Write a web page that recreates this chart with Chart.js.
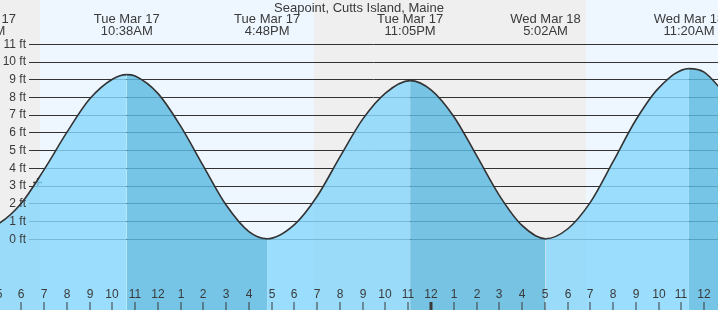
<!DOCTYPE html>
<html>
<head>
<meta charset="utf-8">
<script src="https://cdn.jsdelivr.net/npm/chart.js@4.4.1/dist/chart.umd.min.js"></script>
<style>
  html, body { margin: 0; padding: 0; background: #fff; }
  #wrap { width: 718px; height: 310px; }
</style>
</head>
<body>
<div id="wrap"><canvas id="tide" width="718" height="310"></canvas></div>
<script>
const stationName = 'Seapoint, Cutts Island, Maine';

// hours counted from midnight starting Tue Mar 17
const tideHours = [4.317, 5, 6, 7, 8, 9, 10, 10.633, 11, 12, 13, 14, 15, 16, 16.8,
  18, 19, 20, 21, 22, 23.083, 24, 25, 26, 27, 28, 29.033,
  30, 31, 32, 33, 34, 35.333, 36, 37];
const tideFeet = [0.6, 0.85, 2.0, 3.9, 6.0, 7.88, 9.0, 9.26, 9.18, 8.2, 6.35, 4.1, 1.9, 0.4, 0.0,
  0.8, 2.4, 4.62, 6.75, 8.22, 8.92, 8.4, 6.9, 4.7, 2.45, 0.75, 0.0,
  0.55, 2.05, 4.35, 6.7, 8.5, 9.6, 9.4, 8.05];

// high / low tide labels
const extremeHours = [4.317, 10.633, 16.8, 23.083, 29.033, 35.333];
const extremeDays = ['Tue Mar 17', 'Tue Mar 17', 'Tue Mar 17', 'Tue Mar 17', 'Wed Mar 18', 'Wed Mar 18'];
const extremeTimes = ['4:19AM', '10:38AM', '4:48PM', '11:05PM', '5:02AM', '11:20AM'];

// daylight
const dayStarts = [6.82, 30.81];
const dayEnds = [18.86, 42.9];

const footTicks = [0, 1, 2, 3, 4, 5, 6, 7, 8, 9, 10, 11];
const hourTicks = [5, 6, 7, 8, 9, 10, 11, 12, 13, 14, 15, 16, 17, 18, 19, 20, 21, 22, 23, 24,
  25, 26, 27, 28, 29, 30, 31, 32, 33, 34, 35, 36];

const nowHour = 6.72;
const nowFeet = 3.17;

const FONT = '"Liberation Sans", Arial, sans-serif';
const INK = '#3a3a3a';

function hourLabel(h) {
  return String(((h % 12) + 11) % 12 + 1);
}

const tideDecor = {
  id: 'tideDecor',
  beforeDraw(chart) {
    const { ctx, chartArea: a, scales: { x } } = chart;
    ctx.save();
    ctx.fillStyle = '#efefef';
    ctx.fillRect(a.left, a.top, a.width, a.height);
    ctx.fillStyle = '#eef7ff';
    dayStarts.forEach((s, i) => {
      const x0 = x.getPixelForValue(s);
      const x1 = x.getPixelForValue(dayEnds[i]);
      ctx.fillRect(x0, a.top, x1 - x0, a.height);
    });
    ctx.restore();
  },
  beforeDatasetsDraw(chart) {
    const { ctx, chartArea: a, scales: { y } } = chart;
    ctx.save();
    ctx.strokeStyle = '#333';
    ctx.lineWidth = 1;
    footTicks.forEach(f => {
      const py = Math.round(y.getPixelForValue(f)) + 0.5;
      ctx.beginPath();
      ctx.moveTo(29, py);
      ctx.lineTo(a.right, py);
      ctx.stroke();
    });
    ctx.restore();
  },
  afterDraw(chart) {
    const { ctx, chartArea: a, scales: { x, y } } = chart;
    ctx.save();
    ctx.fillStyle = INK;

    // foot labels
    ctx.font = '12px ' + FONT;
    ctx.textAlign = 'right';
    ctx.textBaseline = 'middle';
    footTicks.forEach(f => {
      ctx.fillText(f + ' ft', 26, y.getPixelForValue(f) + 0.5);
    });

    // hour labels and ticks
    ctx.textAlign = 'center';
    hourTicks.forEach(h => {
      const px = Math.round(x.getPixelForValue(h));
      ctx.fillText(hourLabel(h), px, 295);
      ctx.fillRect(px - (h === 24 ? 1.5 : 0.5), 302, h === 24 ? 3 : 1, a.bottom - 302);
    });

    // title and high/low labels
    ctx.font = '13px ' + FONT;
    ctx.fillText(stationName, (a.left + a.right) / 2, 8);
    extremeHours.forEach((h, i) => {
      const px = x.getPixelForValue(h);
      ctx.fillText(extremeDays[i], px, 19.5);
      ctx.fillText(extremeTimes[i], px, 31.5);
    });
    ctx.restore();
  }
};

const tidePoints = tideHours.map((h, i) => ({ x: h, y: tideFeet[i] }));

new Chart(document.getElementById('tide'), {
  type: 'line',
  data: {
    datasets: [
      {
        data: tidePoints,
        borderColor: '#333',
        borderWidth: 1.6,
        backgroundColor: 'rgba(136, 215, 253, 0.82)',
        fill: 'start',
        pointRadius: 0,
        cubicInterpolationMode: 'monotone',
        segment: {
          // falling tide is drawn darker
          backgroundColor: c => c.p1.parsed.y < c.p0.parsed.y
            ? 'rgba(92, 185, 226, 0.82)'
            : 'rgba(136, 215, 253, 0.82)'
        }
      },
      {
        data: [{ x: nowHour, y: nowFeet }],
        showLine: false,
        pointStyle: 'cross',
        pointRadius: 4.5,
        borderColor: '#333',
        borderWidth: 1.5
      }
    ]
  },
  options: {
    responsive: false,
    animation: false,
    devicePixelRatio: 1,
    layout: { padding: 0, autoPadding: false },
    plugins: { legend: { display: false }, tooltip: { enabled: false } },
    scales: {
      x: { type: 'linear', min: 5.064, max: 36.61, display: false },
      y: { type: 'linear', min: -4.02, max: 13.47, display: false }
    }
  },
  plugins: [tideDecor]
});
</script>
</body>
</html>
